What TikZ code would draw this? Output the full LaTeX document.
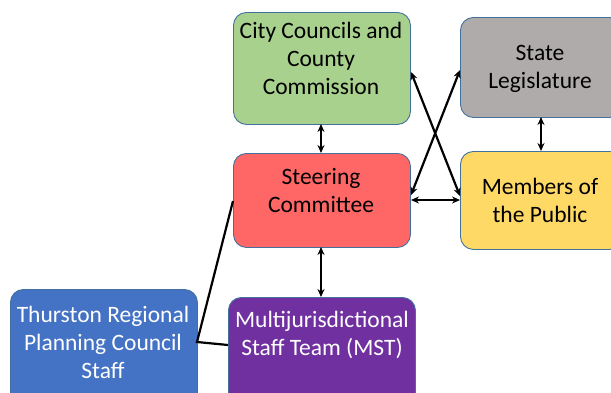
\documentclass[tikz,border=0pt]{standalone}
\usepackage{fontspec}
\setmainfont{Carlito}
\usetikzlibrary{arrows.meta}
\definecolor{cgreen}{HTML}{A9D18E}
\definecolor{cgrey}{HTML}{AFABAB}
\definecolor{cred}{HTML}{FF6666}
\definecolor{cyellow}{HTML}{FFD966}
\definecolor{cblue}{HTML}{4472C4}
\definecolor{cpurple}{HTML}{7030A0}
\definecolor{cedge}{HTML}{41719C}
\tikzset{
  box/.style={draw=cedge, line width=0.9pt, rounded corners=13pt, anchor=north west, inner sep=0pt},
  txt/.style={align=center, font=\fontsize{23.5}{28}\selectfont, inner sep=0pt},
  link/.style={line width=2.2pt, black},
  dbl/.style={link, {Stealth[length=8pt,width=7pt]}-{Stealth[length=8pt,width=7pt]}}
}
\begin{document}
\begin{tikzpicture}[x=1pt,y=-1pt]
\useasboundingbox (0,0) rectangle (611,392);
\clip (0,0) rectangle (611,392);
% boxes
\node[box, fill=cgreen, minimum width=177pt, minimum height=112pt] (city) at (233,12) {};
\node[box, fill=cgrey, minimum width=162pt, minimum height=100pt] (state) at (460,17) {};
\node[box, fill=cred, minimum width=177pt, minimum height=94pt] (steer) at (233,153) {};
\node[box, fill=cyellow, minimum width=162pt, minimum height=98pt] (public) at (460,151) {};
\node[box, fill=cblue, minimum width=187pt, minimum height=130pt] (trpc) at (10,289) {};
\node[box, fill=cpurple, minimum width=187pt, minimum height=130pt] (mst) at (228,297) {};
% texts
\node[txt] (citytxt) at (321,58) {City Councils and\\County\\Commission};
\node[txt] (statetxt) at (540,69) {State\\Legislature};
\node[txt] (steertxt) at (321,190) {Steering\\Committee};
\node[txt] (publictxt) at (540,200) {Members of\\the Public};
\node[txt, text=white] (trpctxt) at (103,342) {Thurston Regional\\Planning Council\\Staff};
\node[txt, text=white] (msttxt) at (322,335) {Multijurisdictional\\Staff Team (MST)};
% connector points
\coordinate (c1) at (321,124);
\coordinate (s1) at (321,153);
\coordinate (s2) at (321,247);
\coordinate (m1) at (321,297);
\coordinate (l1) at (541,117);
\coordinate (p1) at (541,151);
\coordinate (cr) at (411,72);
\coordinate (pl) at (460,196);
\coordinate (sl) at (460,70);
\coordinate (sr) at (411,195);
\coordinate (sh) at (411,200);
\coordinate (ph) at (460,200);
\coordinate (sw) at (233,201);
\coordinate (te) at (197,342);
\coordinate (mw) at (228,345);
% connectors
\draw[dbl] (c1) -- (s1);
\draw[dbl] (l1) -- (p1);
\draw[dbl] (s2) -- (m1);
\draw[dbl] (cr) -- (pl);
\draw[dbl] (sl) -- (sr);
\draw[dbl] (sh) -- (ph);
\draw[link] (sw) -- (te) -- (mw);
\end{tikzpicture}
\end{document}
